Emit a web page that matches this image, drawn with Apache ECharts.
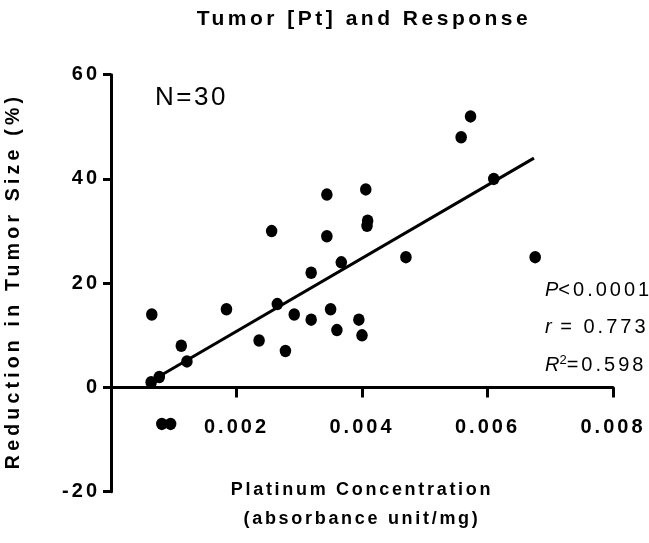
<!DOCTYPE html>
<html><head><meta charset="utf-8">
<script src="https://cdn.jsdelivr.net/npm/echarts@6/dist/echarts.min.js"></script>
<style>html,body{margin:0;padding:0;background:#fff}#c{width:649px;height:543px}</style>
</head><body><div id="c"></div>
<script>
// ---- data ----
const concentration = [0.00065,0.00064,0.00077,0.00081,0.00095,0.00112,0.00121,0.00184,0.00236,0.00256,
  0.00265,0.00278,0.00292,0.00319,0.00319,0.00344,0.00344,0.00350,0.00360,0.00367,
  0.00395,0.00400,0.00406,0.00409,0.00408,0.00470,0.00558,0.00573,0.00610,0.00676];
const reduction = [14,1,2,-7,-7,8,5,15,9,30,
  16,7,14,22,13,29,37,15,11,24,
  13,10,38,32,31,25,48,52,40,25];
const fitX = [0.00062, 0.00674];
const fitY = [1.1, 44.0];
const xTickLabels = ['0.002','0.004','0.006','0.008'];
const yTickValues = [-20,0,20,40,60];
const titleText = 'Tumor [Pt] and Response';
const xName1 = 'Platinum Concentration';
const xName2 = '(absorbance unit/mg)';
const yName = 'Reduction in Tumor Size (%)';
const nText = 'N=30';

// letter tracking similar to the reference typography (keyed by font size)
const TRACK = {'20':3, '21':3.5, '19.5':4.2, '18':2.7, '26':2.5};
(function(){
  const P = CanvasRenderingContext2D.prototype;
  const orig = P.fillText;
  P.fillText = function(t, x, y, w){
    const m = /(\d+(?:\.\d+)?)px/.exec(this.font);
    const key = m ? m[1] : '12';
    const sp = (key in TRACK) ? TRACK[key] : parseFloat(key) * 0.15;
    if ('letterSpacing' in this) this.letterSpacing = sp.toFixed(2) + 'px';
    const r = (w === undefined) ? orig.call(this, t, x, y) : orig.call(this, t, x, y, w);
    if ('letterSpacing' in this) this.letterSpacing = '0px';
    return r;
  };
})();

const FF = "'Liberation Sans',Arial,sans-serif";
const points = concentration.map((c,i)=>[c, reduction[i]]);
const fitLine = fitX.map((x,i)=>[x, fitY[i]]);

const chart = echarts.init(document.getElementById('c'), null, {renderer:'canvas'});
const option = {
  animation: false,
  backgroundColor: '#fff',
  grid: {left:111, right:36, top:74.7, bottom:51.3, containLabel:false, outerBoundsMode:'none'},
  xAxis: {
    type:'value', min:0, max:0.008, interval:0.002,
    offset: -104.2,
    axisLine:{show:true, onZero:false, lineStyle:{color:'#000', width:3}},
    axisTick:{show:true, length:10, lineStyle:{color:'#000', width:3}},
    splitLine:{show:false},
    axisLabel:{margin:30, color:'#000', fontFamily:FF, fontWeight:'bold', fontSize:20,
      formatter: v => { const i = Math.round(v/0.002) - 1; return i >= 0 ? xTickLabels[i] : ''; }}
  },
  yAxis: {
    type:'value', min:yTickValues[0], max:yTickValues[yTickValues.length-1], interval:20,
    axisLine:{show:true, onZero:false, lineStyle:{color:'#000', width:3}},
    axisTick:{show:true, length:8, lineStyle:{color:'#000', width:3}},
    splitLine:{show:false},
    axisLabel:{margin:11, color:'#000', fontFamily:FF, fontWeight:'bold', fontSize:20}
  },
  series: [
    {type:'scatter', data:points, symbol:'circle', symbolSize:[11.5,12.5],
     itemStyle:{color:'#000', opacity:1, borderWidth:0}, z:3},
    {type:'line', data:fitLine, showSymbol:false, symbol:'none',
     lineStyle:{color:'#000', width:3, opacity:1}, z:2}
  ],
  graphic: [
    {type:'text', x:364, y:19, style:{text:titleText, fill:'#000', font:"bold 21px "+FF, textAlign:'center', textVerticalAlign:'middle'}},
    {type:'text', x:362, y:490, style:{text:xName1, fill:'#000', font:"bold 18px "+FF, textAlign:'center', textVerticalAlign:'middle'}},
    {type:'text', x:362, y:519, style:{text:xName2, fill:'#000', font:"bold 18px "+FF, textAlign:'center', textVerticalAlign:'middle'}},
    {type:'text', x:14, y:281, rotation:Math.PI/2, style:{text:yName, fill:'#000', font:"bold 19.5px "+FF, textAlign:'center', textVerticalAlign:'middle'}},
    {type:'text', x:155, y:98, style:{text:nText, fill:'#000', font:"26px "+FF, textAlign:'left', textVerticalAlign:'middle'}},
    {type:'text', x:545, y:290, style:{text:'{i|P}{n|<0.0001}', textAlign:'left', textVerticalAlign:'middle',
      rich:{i:{fontFamily:FF, fontSize:20, fontStyle:'italic', fill:'#000'}, n:{fontFamily:FF, fontSize:20, fill:'#000'}}}},
    {type:'text', x:545, y:327, style:{text:'{i|r}{n| = 0.773}', textAlign:'left', textVerticalAlign:'middle',
      rich:{i:{fontFamily:FF, fontSize:20, fontStyle:'italic', fill:'#000'}, n:{fontFamily:FF, fontSize:20, fill:'#000'}}}},
    {type:'text', x:545, y:365, style:{text:'{i|R}{s|2}{n|=0.598}', textAlign:'left', textVerticalAlign:'middle',
      rich:{i:{fontFamily:FF, fontSize:20, fontStyle:'italic', fill:'#000'},
            s:{fontFamily:FF, fontSize:13, fill:'#000', verticalAlign:'top', padding:[0,0,10,0]},
            n:{fontFamily:FF, fontSize:20, fill:'#000'}}}}
  ]
};
chart.setOption(option);
</script>
</body></html>
